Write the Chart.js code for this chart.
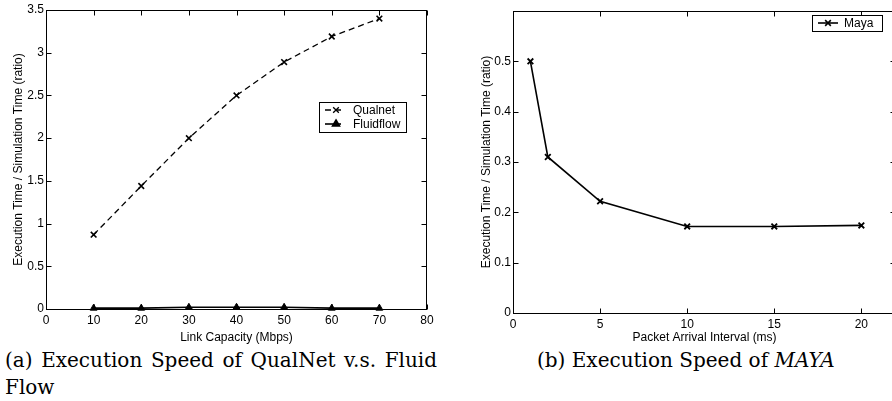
<!DOCTYPE html>
<html>
<head>
<meta charset="utf-8">
<script src="https://cdn.jsdelivr.net/npm/chart.js@4/dist/chart.umd.min.js"></script>
<style>
  html, body { margin: 0; background: #fff; overflow: hidden; }
  body { width: 892px; height: 401px; position: relative; }
  .caja { position: absolute; top: 0; height: 346px; }
  .pie { position: absolute; font-family: "DejaVu Serif", "Liberation Serif", serif; font-size: 20px; color: #000; line-height: 27px; white-space: nowrap; }
  .just { text-align: justify; text-align-last: justify; width: 432px; }
</style>
</head>
<body>
<div class="caja" style="left:0; width:446px"><canvas id="grafico-a" width="446" height="346"></canvas></div>
<div class="caja" style="left:446px; width:456px"><canvas id="grafico-b" width="456" height="346"></canvas></div>
<div class="pie" style="left:5px; top:347px; width:432px; white-space:normal;">
  <div class="just">(a) Execution Speed of QualNet v.s. Fluid</div>
  <div>Flow</div>
</div>
<div class="pie" style="left:537px; top:347px;">(b) Execution Speed of <i>MAYA</i></div>
<script>
// DATOS - grafico (a)
var capacidades = [10, 20, 30, 40, 50, 60, 70];
var qualnet = [0.87, 1.44, 2.0, 2.5, 2.89, 3.19, 3.4];
var fluidflow = [0.01, 0.01, 0.02, 0.02, 0.02, 0.01, 0.01];
var ticksXa = [0, 10, 20, 30, 40, 50, 60, 70, 80];
var ticksYa = [0, 0.5, 1, 1.5, 2, 2.5, 3, 3.5];

// DATOS - grafico (b)
var intervalos = [1, 2, 5, 10, 15, 20];
var maya = [0.5, 0.31, 0.222, 0.172, 0.172, 0.174];
var ticksXb = [0, 5, 10, 15, 20];
var ticksYb = [0, 0.1, 0.2, 0.3, 0.4, 0.5];

var fuente = 'Liberation Sans, Arial, sans-serif';

function puntos(xs, ys) {
    return xs.map(function (x, i) { return { x: x, y: ys[i] }; });
}

// Marco tipo MATLAB con ticks hacia dentro
var marcoPlugin = {
    id: 'marco',
    afterDraw: function (chart) {
        var ctx = chart.ctx, a = chart.chartArea;
        var sx = chart.scales.x, sy = chart.scales.y;
        var l = Math.round(a.left) + 0.5, r = Math.round(a.right) - 0.5;
        var t = Math.round(a.top) + 0.5, b = Math.round(a.bottom) + 0.5;
        ctx.save();
        ctx.strokeStyle = '#000';
        ctx.lineWidth = 1;
        ctx.strokeRect(l, t, r - l, b - t);
        ctx.beginPath();
        sx.ticks.forEach(function (tk) {
            var px = Math.round(sx.getPixelForValue(tk.value)) + 0.5;
            ctx.moveTo(px, b); ctx.lineTo(px, b - 5);
            ctx.moveTo(px, t); ctx.lineTo(px, t + 5);
        });
        sy.ticks.forEach(function (tk) {
            var py = Math.round(sy.getPixelForValue(tk.value)) + 0.5;
            ctx.moveTo(l, py); ctx.lineTo(l + 5, py);
            ctx.moveTo(r, py); ctx.lineTo(r - 5, py);
        });
        ctx.stroke();
        ctx.restore();
    }
};

// Leyenda dibujada dentro del area
var leyendaPlugin = {
    id: 'leyenda',
    afterDraw: function (chart, args, opts) {
        var ctx = chart.ctx;
        ctx.save();
        ctx.fillStyle = '#fff';
        ctx.fillRect(opts.x, opts.y, opts.w, opts.h);
        ctx.strokeStyle = '#000';
        ctx.lineWidth = 1;
        ctx.strokeRect(opts.x + 0.5, opts.y + 0.5, opts.w, opts.h);
        ctx.font = '12px ' + fuente;
        ctx.textBaseline = 'middle';
        chart.data.datasets.forEach(function (ds, i) {
            var yy = opts.y + opts.fila0 + i * opts.paso;
            var x0 = opts.x + 6, x1 = x0 + opts.linea;
            ctx.strokeStyle = '#000';
            ctx.lineWidth = ds.borderWidth;
            ctx.setLineDash(ds.borderDash || []);
            ctx.beginPath(); ctx.moveTo(x0, yy); ctx.lineTo(x1, yy); ctx.stroke();
            ctx.setLineDash([]);
            ctx.fillStyle = '#000';
            Chart.helpers.drawPoint(ctx, {
                pointStyle: ds.pointStyle, radius: ds.pointRadius,
                borderWidth: ds.pointBorderWidth, rotation: 0
            }, x0 + opts.marca, yy);
            ctx.fillText(ds.label, x1 + opts.gap, yy + 0.5);
        });
        ctx.restore();
    }
};

function sinRelleno(s) {
    s.paddingLeft = 0; s.paddingRight = 0; s.paddingTop = 0; s.paddingBottom = 0;
}

function opcionesEjes(tx, ty, xmin, xmax, ymin, ymax, anchoY, altoX, tituloX, tituloY, padTitY) {
    return {
        x: {
            type: 'linear', min: xmin, max: xmax,
            afterBuildTicks: function (s) { s.ticks = tx.map(function (v) { return { value: v }; }); },
            afterFit: function (s) { s.height = altoX; sinRelleno(s); },
            grid: { display: false, drawTicks: false },
            border: { display: false },
            ticks: { color: '#000', padding: 4, maxRotation: 0, font: { size: 12, family: fuente },
                callback: function (v) { return String(v); } },
            title: { display: true, text: tituloX, color: '#000', padding: { top: 0, bottom: 1 }, font: { size: 12, family: fuente } }
        },
        y: {
            min: ymin, max: ymax,
            afterBuildTicks: function (s) { s.ticks = ty.map(function (v) { return { value: v }; }); },
            afterFit: function (s) { s.width = anchoY; sinRelleno(s); },
            grid: { display: false, drawTicks: false },
            border: { display: false },
            ticks: { color: '#000', padding: 2, font: { size: 12, family: fuente },
                callback: function (v) { return String(v); } },
            title: { display: true, text: tituloY, color: '#000', padding: { top: padTitY, bottom: 0 }, font: { size: 12, family: fuente } }
        }
    };
}

// GRAFICO (a)
var ctxA = document.getElementById('grafico-a').getContext('2d');
var graficoA = new Chart(ctxA, {
    type: 'line',
    data: {
        datasets: [{
            label: 'Qualnet',
            data: puntos(capacidades, qualnet),
            borderColor: '#000', backgroundColor: '#000',
            borderWidth: 1.3, borderDash: [6, 4],
            pointStyle: 'crossRot', pointRadius: 4, pointBorderWidth: 1.6,
            pointBorderColor: '#000', clip: false
        }, {
            label: 'Fluidflow',
            data: puntos(capacidades, fluidflow),
            borderColor: '#000', backgroundColor: '#000',
            borderWidth: 1.6,
            pointStyle: 'triangle', pointRadius: 4, pointBorderWidth: 1,
            pointBackgroundColor: '#000', pointBorderColor: '#000', clip: false
        }]
    },
    options: {
        responsive: false, animation: false,
        layout: { padding: { top: 10, right: 19, left: 0, bottom: 0 } },
        plugins: {
            legend: { display: false }, tooltip: { enabled: false },
            leyenda: { x: 319, y: 102, w: 87, h: 30, fila0: 8, paso: 14, linea: 16, marca: 11, gap: 12 }
        },
        scales: opcionesEjes(ticksXa, ticksYa, 0, 80, 0, 3.5, 46, 37,
            'Link Capacity (Mbps)', 'Execution Time / Simulation Time (ratio)', 11)
    },
    plugins: [marcoPlugin, leyendaPlugin]
});

// GRAFICO (b)
var ctxB = document.getElementById('grafico-b').getContext('2d');
var graficoB = new Chart(ctxB, {
    type: 'line',
    data: {
        datasets: [{
            label: 'Maya',
            data: puntos(intervalos, maya),
            borderColor: '#000', backgroundColor: '#000',
            borderWidth: 1.6,
            pointStyle: 'crossRot', pointRadius: 4, pointBorderWidth: 1.8,
            pointBorderColor: '#000', clip: false
        }]
    },
    options: {
        responsive: false, animation: false,
        layout: { padding: { top: 11, right: 0, left: 0, bottom: 0 } },
        plugins: {
            legend: { display: false }, tooltip: { enabled: false },
            leyenda: { x: 366, y: 15, w: 70, h: 16, fila0: 8, paso: 14, linea: 20, marca: 10, gap: 6 }
        },
        scales: opcionesEjes(ticksXb, ticksYb, 0, 22, 0, 0.6, 67, 33,
            'Packet Arrival Interval (ms)', 'Execution Time / Simulation Time (ratio)', 33)
    },
    plugins: [marcoPlugin, leyendaPlugin]
});
</script>
</body>
</html>
